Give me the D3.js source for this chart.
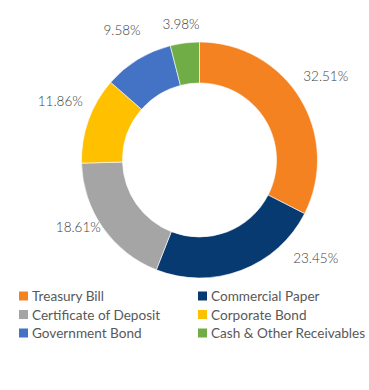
<!DOCTYPE html>
<html>
<head>
<meta charset="utf-8">
<script src="https://cdn.jsdelivr.net/npm/d3@7"></script>
<style>
  html, body { margin: 0; padding: 0; background: #fff; }
  svg { display: block; font-family: Lato, "Open Sans", sans-serif; }
</style>
</head>
<body>
<svg id="chart" width="369" height="390"></svg>
<script>
const categories = ['Treasury Bill', 'Commercial Paper', 'Certificate of Deposit',
  'Corporate Bond', 'Government Bond', 'Cash & Other Receivables']
const shares = [32.51, 23.45, 18.61, 11.86, 9.58, 3.98]
const colors = ['#F58220', '#063A70', '#A5A5A5', '#FFC000', '#4472C4', '#70AD47']

const svg = d3.select('#chart')
const cx = 199.5
const cy = 160
const outerR = 118
const innerR = 77
// labels ride on a slightly flattened ellipse, kept inside the chart area
const labelRx = 148
const labelRy = 138
const labelCy = 148
const labelMinY = 24
const labelMaxY = 258

const data = categories.map((name, i) => ({name: name, value: shares[i], color: colors[i]}))

const pie = d3.pie()
    .sort(null)
    .value(d => d.value)

const arc = d3.arc()
    .innerRadius(innerR)
    .outerRadius(outerR)

const g = svg.append('g')
    .attr('transform', `translate(${cx},${cy})`)

g.selectAll('path.slice')
    .data(pie(data))
    .enter()
    .append('path')
    .attr('class', 'slice')
    .attr('d', arc)
    .attr('fill', d => d.data.color)
    .attr('stroke', '#fff')
    .attr('stroke-width', 0.6)

svg.append('g')
    .selectAll('text.pct')
    .data(pie(data))
    .enter()
    .append('text')
    .attr('class', 'pct')
    .each(function (d) {
      const a = (d.startAngle + d.endAngle) / 2
      let x = cx + labelRx * Math.sin(a)
      let y = labelCy - labelRy * Math.cos(a)
      if (y < labelMinY) y = labelMinY
      if (y > labelMaxY) {
        // slide up along the circle so it clears the legend
        const r = labelRx + 12
        const dy = labelMaxY - labelCy
        y = labelMaxY
        x = cx + Math.sign(Math.sin(a)) * Math.sqrt(r * r - dy * dy)
      }
      d3.select(this).attr('x', x).attr('y', y)
    })
    .attr('text-anchor', 'middle')
    .attr('dominant-baseline', 'central')
    .attr('font-size', 13.5)
    .attr('font-weight', 300)
    .attr('fill', '#404040')
    .text(d => d.data.value.toFixed(2) + '%')

// legend, two columns
const legend = svg.append('g')
    .attr('class', 'legend')
const colX = d3.scalePoint().domain([0, 1]).range([19, 198])
const rowY = d3.scalePoint().domain([0, 1, 2]).range([296, 333])

const item = legend.selectAll('g.item')
    .data(data)
    .enter()
    .append('g')
    .attr('class', 'item')
    .attr('transform', (d, i) => `translate(${colX(i % 2)},${rowY(Math.floor(i / 2))})`)

item.append('rect')
    .attr('x', 0)
    .attr('y', -4.5)
    .attr('width', 9)
    .attr('height', 9)
    .attr('fill', d => d.color)

item.append('text')
    .attr('x', 13)
    .attr('y', 0)
    .attr('dominant-baseline', 'central')
    .attr('font-size', 13.6)
    .attr('fill', '#595959')
    .text(d => d.name)
</script>
</body>
</html>
